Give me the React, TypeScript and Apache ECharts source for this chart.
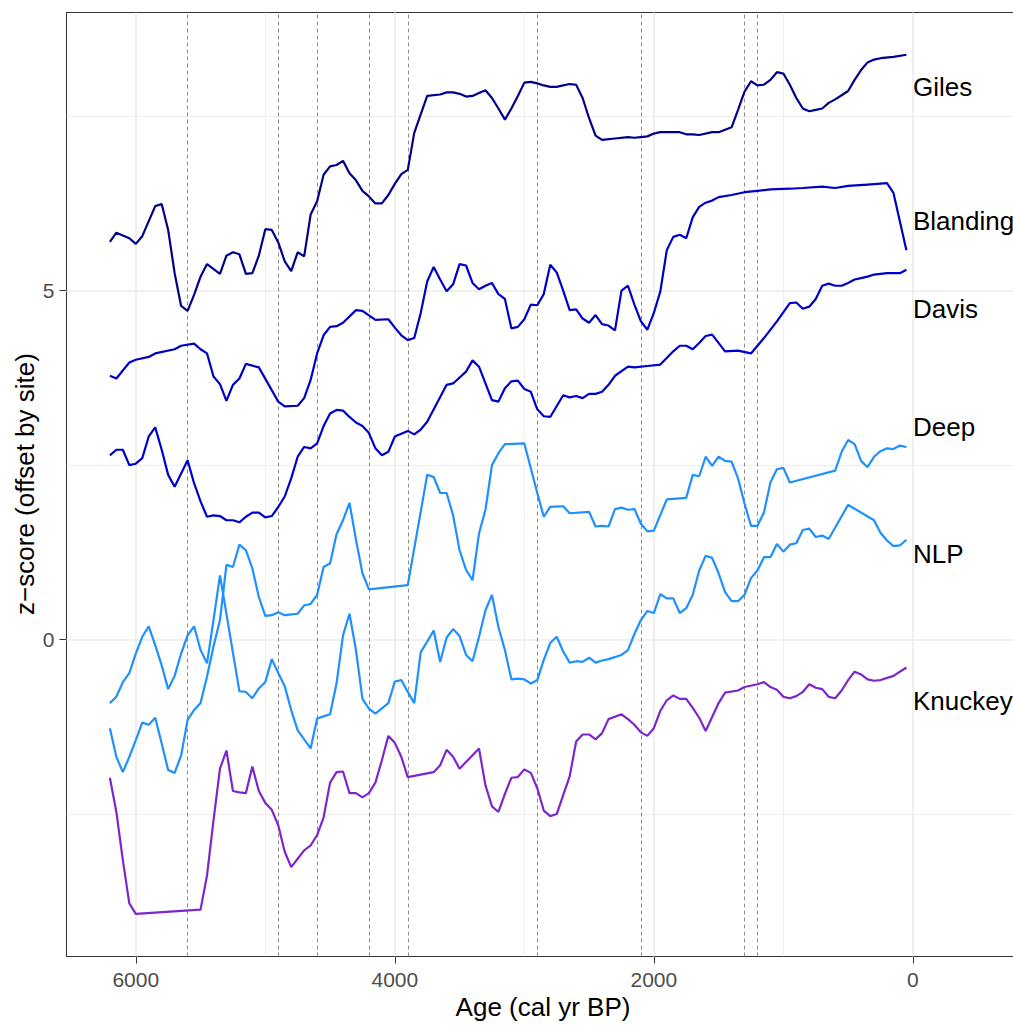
import React, { useEffect, useRef } from "react";
import * as echarts from "echarts";

const sites = ["Giles", "Blanding", "Davis", "Deep", "NLP", "Knuckey"];
const siteColors = ["#00008B", "#0000C4", "#0000CD", "#1E90FF", "#1E90FF", "#7D26CD"];
const labelZ = [7.92, 6.0, 4.73, 3.04, 1.23, -0.88];
const eventAges = [5600, 4900, 4600, 4200, 3900, 2900, 2100, 1300, 1200];
const xMajor = [6000, 4000, 2000, 0];
const xMinor = [5000, 3000, 1000];
const yMajor = [0, 5];
const yMinor = [-2.5, 2.5, 7.5];
const xLimits = [-773, 6535];
const yLimits = [-4.541, 8.985];

const giles = [
  [6200, 5.7], [6150, 5.83], [6050, 5.75], [6000, 5.67], [5950, 5.78], [5850, 6.21], [5800, 6.24],
  [5750, 5.87], [5700, 5.25], [5650, 4.78], [5600, 4.71], [5550, 4.94], [5500, 5.2], [5450, 5.38],
  [5350, 5.24], [5300, 5.5], [5250, 5.55], [5200, 5.52], [5150, 5.24], [5100, 5.25], [5050, 5.5],
  [5000, 5.88], [4950, 5.87], [4900, 5.69], [4850, 5.42], [4800, 5.28], [4750, 5.55], [4700, 5.49],
  [4650, 6.09], [4600, 6.28], [4550, 6.66], [4500, 6.78], [4450, 6.8], [4400, 6.86], [4350, 6.68],
  [4300, 6.58], [4250, 6.43], [4200, 6.35], [4150, 6.25], [4100, 6.25], [4050, 6.37], [4000, 6.53],
  [3950, 6.67], [3900, 6.73], [3850, 7.26], [3750, 7.79], [3650, 7.81], [3600, 7.84], [3550, 7.84],
  [3500, 7.82], [3450, 7.78], [3400, 7.79], [3350, 7.83], [3300, 7.87], [3250, 7.76], [3200, 7.61],
  [3150, 7.45], [3100, 7.61], [3050, 7.79], [3000, 7.98], [2950, 7.99], [2900, 7.97], [2850, 7.94],
  [2800, 7.92], [2750, 7.92], [2700, 7.94], [2650, 7.96], [2600, 7.95], [2550, 7.76], [2500, 7.47],
  [2450, 7.22], [2400, 7.16], [2300, 7.18], [2200, 7.2], [2150, 7.19], [2100, 7.2], [2050, 7.21],
  [2000, 7.25], [1950, 7.27], [1850, 7.27], [1800, 7.27], [1750, 7.24], [1700, 7.24], [1650, 7.23],
  [1550, 7.27], [1500, 7.27], [1400, 7.34], [1350, 7.59], [1300, 7.85], [1250, 8.0], [1200, 7.94],
  [1150, 7.95], [1100, 8.02], [1050, 8.13], [1000, 8.11], [950, 7.95], [900, 7.76], [850, 7.61],
  [800, 7.57], [750, 7.59], [700, 7.61], [650, 7.69], [600, 7.74], [550, 7.8], [500, 7.86],
  [450, 8.02], [400, 8.16], [350, 8.27], [300, 8.31], [250, 8.33], [150, 8.35], [50, 8.38],
];

const blanding = [
  [6200, 3.78], [6150, 3.74], [6050, 3.97], [6000, 4.01], [5900, 4.05], [5850, 4.1], [5700, 4.16],
  [5650, 4.21], [5550, 4.24], [5500, 4.16], [5450, 4.1], [5400, 3.77], [5350, 3.66], [5300, 3.42],
  [5250, 3.65], [5200, 3.74], [5150, 3.95], [5050, 3.9], [4900, 3.41], [4850, 3.34], [4750, 3.35],
  [4700, 3.46], [4650, 3.72], [4600, 4.1], [4550, 4.36], [4500, 4.48], [4450, 4.49], [4400, 4.54],
  [4300, 4.72], [4250, 4.71], [4150, 4.58], [4050, 4.59], [4000, 4.47], [3950, 4.36], [3900, 4.29],
  [3850, 4.32], [3800, 4.68], [3750, 5.13], [3700, 5.34], [3650, 5.16], [3600, 4.99], [3550, 5.09],
  [3500, 5.38], [3450, 5.36], [3400, 5.11], [3350, 5.02], [3300, 5.07], [3250, 5.11], [3200, 4.95],
  [3150, 4.88], [3100, 4.46], [3050, 4.48], [3000, 4.59], [2950, 4.8], [2900, 4.79], [2850, 4.95],
  [2800, 5.37], [2750, 5.26], [2700, 5.0], [2650, 4.72], [2600, 4.73], [2550, 4.6], [2500, 4.54],
  [2450, 4.65], [2400, 4.52], [2350, 4.5], [2300, 4.43], [2250, 5.0], [2200, 5.07], [2150, 4.8],
  [2100, 4.56], [2050, 4.44], [2000, 4.68], [1950, 4.99], [1900, 5.58], [1850, 5.77], [1800, 5.8],
  [1750, 5.75], [1700, 6.05], [1650, 6.2], [1600, 6.26], [1550, 6.29], [1500, 6.34], [1400, 6.37],
  [1300, 6.41], [1200, 6.43], [1100, 6.45], [950, 6.46], [850, 6.47], [700, 6.49], [600, 6.47],
  [500, 6.5], [350, 6.52], [200, 6.54], [150, 6.4], [50, 5.58],
];

const davis = [
  [6200, 2.64], [6150, 2.72], [6100, 2.72], [6050, 2.5], [6000, 2.52], [5950, 2.6], [5900, 2.91],
  [5850, 3.04], [5800, 2.72], [5750, 2.36], [5700, 2.19], [5600, 2.57], [5550, 2.24], [5500, 1.98],
  [5450, 1.76], [5400, 1.78], [5350, 1.77], [5300, 1.71], [5250, 1.71], [5200, 1.68], [5150, 1.76],
  [5100, 1.82], [5050, 1.82], [5000, 1.75], [4950, 1.77], [4900, 1.9], [4850, 2.05], [4800, 2.31],
  [4750, 2.62], [4700, 2.76], [4650, 2.74], [4600, 2.81], [4550, 3.06], [4500, 3.24], [4450, 3.29],
  [4400, 3.28], [4350, 3.19], [4300, 3.11], [4250, 3.06], [4200, 2.96], [4150, 2.74], [4100, 2.64],
  [4050, 2.69], [4000, 2.91], [3900, 2.99], [3850, 2.94], [3800, 3.01], [3750, 3.12], [3600, 3.65],
  [3550, 3.67], [3450, 3.84], [3400, 4.0], [3350, 3.91], [3250, 3.43], [3200, 3.41], [3150, 3.6],
  [3100, 3.7], [3050, 3.71], [3000, 3.59], [2950, 3.55], [2900, 3.3], [2850, 3.2], [2800, 3.19],
  [2700, 3.5], [2650, 3.47], [2600, 3.49], [2550, 3.46], [2500, 3.52], [2450, 3.52], [2400, 3.55],
  [2350, 3.65], [2300, 3.78], [2200, 3.91], [2150, 3.9], [2050, 3.92], [1950, 3.94], [1850, 4.13],
  [1800, 4.21], [1750, 4.21], [1700, 4.16], [1650, 4.25], [1600, 4.35], [1550, 4.37], [1450, 4.13],
  [1350, 4.14], [1250, 4.1], [1150, 4.32], [1050, 4.56], [950, 4.82], [900, 4.83], [850, 4.74],
  [800, 4.77], [750, 4.88], [700, 5.07], [650, 5.1], [600, 5.07], [550, 5.07], [500, 5.11],
  [450, 5.16], [400, 5.18], [350, 5.2], [300, 5.23], [200, 5.25], [100, 5.25], [50, 5.3],
];

const deep = [
  [6200, -1.27], [6150, -1.68], [6100, -1.9], [6050, -1.68], [6000, -1.44], [5950, -1.19], [5900, -1.22],
  [5850, -1.12], [5800, -1.49], [5750, -1.87], [5700, -1.91], [5650, -1.66], [5600, -1.15], [5550, -1.01],
  [5500, -0.91], [5450, -0.53], [5400, -0.1], [5350, 0.28], [5300, 1.07], [5250, 1.04], [5200, 1.36],
  [5150, 1.28], [5100, 1.02], [5050, 0.61], [5000, 0.34], [4950, 0.35], [4900, 0.39], [4850, 0.35],
  [4750, 0.37], [4700, 0.49], [4650, 0.51], [4600, 0.64], [4550, 1.04], [4500, 1.09], [4450, 1.51],
  [4400, 1.71], [4350, 1.96], [4300, 1.43], [4250, 0.95], [4200, 0.72], [3900, 0.78], [3750, 2.36],
  [3700, 2.33], [3650, 2.1], [3600, 2.1], [3550, 1.78], [3500, 1.28], [3450, 1.0], [3400, 0.85],
  [3350, 1.52], [3300, 1.86], [3250, 2.5], [3200, 2.67], [3150, 2.8], [3000, 2.81], [2900, 2.1],
  [2850, 1.76], [2800, 1.9], [2700, 1.91], [2650, 1.81], [2500, 1.83], [2450, 1.62], [2400, 1.63],
  [2350, 1.62], [2300, 1.87], [2250, 1.89], [2200, 1.86], [2150, 1.87], [2100, 1.66], [2050, 1.55],
  [2000, 1.56], [1900, 2.01], [1750, 2.03], [1700, 2.36], [1650, 2.34], [1600, 2.62], [1550, 2.49],
  [1500, 2.62], [1450, 2.56], [1400, 2.55], [1350, 2.31], [1300, 1.95], [1250, 1.63], [1200, 1.63],
  [1150, 1.82], [1100, 2.25], [1050, 2.44], [1000, 2.46], [950, 2.25], [600, 2.42], [550, 2.69],
  [500, 2.86], [450, 2.8], [400, 2.56], [350, 2.47], [300, 2.62], [250, 2.7], [200, 2.74],
  [150, 2.73], [100, 2.78], [50, 2.76],
];

const nlp = [
  [6200, -0.91], [6150, -0.82], [6100, -0.61], [6050, -0.48], [6000, -0.2], [5950, 0.04], [5900, 0.19],
  [5850, -0.08], [5800, -0.37], [5750, -0.71], [5700, -0.52], [5650, -0.2], [5600, 0.06], [5550, 0.19],
  [5500, -0.15], [5450, -0.34], [5400, 0.28], [5350, 0.92], [5200, -0.74], [5150, -0.75], [5100, -0.84],
  [5050, -0.7], [5000, -0.61], [4950, -0.28], [4900, -0.48], [4850, -0.67], [4800, -1.01], [4750, -1.3],
  [4700, -1.43], [4650, -1.56], [4600, -1.13], [4550, -1.1], [4500, -1.07], [4450, -0.63], [4400, 0.06],
  [4350, 0.37], [4300, -0.15], [4250, -0.85], [4200, -0.99], [4150, -1.06], [4050, -0.91], [4000, -0.6],
  [3950, -0.58], [3900, -0.75], [3850, -0.91], [3800, -0.18], [3750, -0.03], [3700, 0.13], [3650, -0.32],
  [3600, 0.03], [3550, 0.15], [3500, 0.05], [3450, -0.22], [3400, -0.31], [3350, 0.04], [3300, 0.42],
  [3250, 0.64], [3200, 0.18], [3150, -0.15], [3100, -0.57], [3050, -0.56], [3000, -0.57], [2950, -0.63],
  [2900, -0.58], [2850, -0.29], [2800, -0.05], [2750, 0.04], [2700, -0.17], [2650, -0.33], [2600, -0.31],
  [2550, -0.32], [2500, -0.26], [2450, -0.33], [2400, -0.3], [2350, -0.28], [2250, -0.22], [2200, -0.15],
  [2150, 0.08], [2100, 0.28], [2050, 0.41], [2000, 0.38], [1950, 0.65], [1900, 0.59], [1850, 0.59],
  [1800, 0.38], [1750, 0.45], [1700, 0.64], [1650, 0.99], [1600, 1.2], [1550, 1.17], [1500, 0.95],
  [1450, 0.68], [1400, 0.55], [1350, 0.55], [1300, 0.64], [1250, 0.88], [1200, 0.99], [1150, 1.18],
  [1100, 1.18], [1050, 1.37], [1000, 1.26], [950, 1.36], [900, 1.38], [850, 1.57], [800, 1.59],
  [750, 1.47], [700, 1.49], [650, 1.44], [500, 1.93], [300, 1.71], [250, 1.53], [200, 1.42],
  [150, 1.34], [100, 1.35], [50, 1.43],
];

const knuckey = [
  [6200, -1.98], [6150, -2.47], [6100, -3.16], [6050, -3.78], [6000, -3.93], [5500, -3.87], [5450, -3.38],
  [5400, -2.59], [5350, -1.85], [5300, -1.59], [5250, -2.17], [5200, -2.19], [5150, -2.2], [5100, -1.82],
  [5050, -2.17], [5000, -2.34], [4950, -2.44], [4900, -2.66], [4850, -3.04], [4800, -3.26], [4750, -3.14],
  [4700, -3.02], [4650, -2.95], [4600, -2.8], [4550, -2.55], [4500, -2.05], [4450, -1.9], [4400, -1.89],
  [4350, -2.2], [4300, -2.2], [4250, -2.26], [4200, -2.2], [4150, -2.05], [4100, -1.73], [4050, -1.38],
  [4000, -1.48], [3950, -1.68], [3900, -1.97], [3700, -1.9], [3650, -1.8], [3600, -1.58], [3550, -1.68],
  [3500, -1.85], [3350, -1.56], [3300, -2.09], [3250, -2.39], [3200, -2.47], [3150, -2.21], [3100, -1.98],
  [3050, -1.97], [3000, -1.86], [2950, -1.91], [2900, -2.13], [2850, -2.45], [2800, -2.53], [2750, -2.5],
  [2700, -2.23], [2650, -1.96], [2600, -1.46], [2550, -1.36], [2500, -1.36], [2450, -1.43], [2400, -1.34],
  [2350, -1.14], [2250, -1.07], [2200, -1.14], [2150, -1.22], [2100, -1.33], [2050, -1.38], [2000, -1.27],
  [1950, -1.02], [1900, -0.87], [1850, -0.8], [1800, -0.85], [1750, -0.85], [1700, -0.98], [1650, -1.12],
  [1600, -1.31], [1550, -1.11], [1500, -0.91], [1450, -0.76], [1350, -0.73], [1300, -0.68], [1200, -0.64],
  [1150, -0.61], [1100, -0.68], [1050, -0.72], [1000, -0.82], [950, -0.84], [900, -0.81], [850, -0.75],
  [800, -0.64], [750, -0.69], [700, -0.71], [650, -0.82], [600, -0.84], [550, -0.73], [500, -0.58],
  [450, -0.46], [400, -0.5], [350, -0.57], [300, -0.59], [250, -0.58], [150, -0.52], [50, -0.4],
];

const siteData = [giles, blanding, davis, deep, nlp, knuckey];

const FONT = "'Liberation Sans', Arial, Helvetica, sans-serif";
const GRID_MAJOR = { color: "#EBEBEB", width: 1.6, type: "solid" };
const GRID_MINOR = { color: "#EBEBEB", width: 0.8, type: "solid" };
const FRAME = { color: "#333333", width: 1 };

export default function App() {
  const ref = useRef<HTMLDivElement>(null);

  useEffect(() => {
    document.body.style.margin = "0";
    if (!ref.current) return;
    const chart = echarts.init(ref.current, null, { renderer: "svg" });

    const gridLines = [
      ...xMinor.map((v) => ({ xAxis: v, lineStyle: GRID_MINOR })),
      ...yMinor.map((v) => ({ yAxis: v, lineStyle: GRID_MINOR })),
      ...xMajor.map((v) => ({ xAxis: v, lineStyle: GRID_MAJOR })),
      ...yMajor.map((v) => ({ yAxis: v, lineStyle: GRID_MAJOR })),
    ];

    const option: any = {
      animation: false,
      backgroundColor: "#FFFFFF",
      grid: {
        left: 66.5,
        right: 0,
        top: 12.5,
        bottom: 68.5,
        show: false,
      },
      xAxis: [
        {
          type: "value",
          inverse: true,
          position: "bottom",
          min: xLimits[0],
          max: xLimits[1],
          splitLine: { show: false },
          axisLine: { show: true, onZero: false, lineStyle: FRAME },
          axisTick: { show: true, length: 7, customValues: xMajor, lineStyle: FRAME },
          axisLabel: {
            show: true,
            customValues: xMajor,
            margin: 12,
            color: "#4D4D4D",
            fontSize: 21,
            fontFamily: FONT,
            formatter: (v: number) => String(Math.round(v)),
          },
        },
        {
          type: "value",
          inverse: true,
          position: "top",
          min: xLimits[0],
          max: xLimits[1],
          splitLine: { show: false },
          axisLine: { show: true, onZero: false, lineStyle: FRAME },
          axisTick: { show: false },
          axisLabel: { show: false },
        },
      ],
      yAxis: {
        type: "value",
        min: yLimits[0],
        max: yLimits[1],
        splitLine: { show: false },
        axisLine: { show: true, onZero: false, lineStyle: FRAME },
        axisTick: { show: true, length: 7, customValues: yMajor, lineStyle: FRAME },
        axisLabel: {
          show: true,
          customValues: yMajor,
          margin: 12,
          color: "#4D4D4D",
          fontSize: 21,
          fontFamily: FONT,
          formatter: (v: number) => String(Math.round(v)),
        },
      },
      series: [
        {
          type: "line",
          data: [],
          silent: true,
          markLine: {
            silent: true,
            z: 1,
            symbol: ["none", "none"],
            label: { show: false },
            emphasis: { disabled: true },
            data: gridLines,
          },
        },
        {
          type: "line",
          data: [],
          silent: true,
          markLine: {
            silent: true,
            z: 1.5,
            symbol: ["none", "none"],
            label: { show: false },
            emphasis: { disabled: true },
            lineStyle: { color: "#7F7F7F", width: 0.9, type: [4, 3] },
            data: eventAges.map((v) => ({ xAxis: v })),
          },
        },
        ...siteData.map((d, i) => ({
          type: "line",
          name: sites[i],
          data: d,
          symbol: "none",
          showSymbol: false,
          silent: true,
          z: 3,
          lineStyle: { color: siteColors[i], width: 2.2 },
        })),
        {
          type: "scatter",
          silent: true,
          z: 4,
          symbolSize: 0.1,
          itemStyle: { color: "rgba(0,0,0,0)" },
          data: labelZ.map((y, i) => ({ name: sites[i], value: [0, y] })),
          label: {
            show: true,
            position: "right",
            distance: 0,
            formatter: "{b}",
            color: "#000000",
            opacity: 1,
            textBorderWidth: 0,
            fontSize: 26,
            fontFamily: FONT,
          },
        },
      ],
      graphic: [
        {
          type: "text",
          x: 543,
          y: 1007,
          style: {
            text: "Age (cal yr BP)",
            fill: "#000000",
            fontSize: 26,
            fontFamily: FONT,
            align: "center",
            verticalAlign: "middle",
          },
        },
        {
          type: "text",
          x: 25,
          y: 484,
          rotation: Math.PI / 2,
          style: {
            text: "z\u2212score (offset by site)",
            fill: "#000000",
            fontSize: 26,
            fontFamily: FONT,
            align: "center",
            verticalAlign: "middle",
          },
        },
      ],
    };

    chart.setOption(option);
    return () => chart.dispose();
  }, []);

  return (
    <div
      ref={ref}
      style={{ position: "absolute", left: 0, top: 0, width: 1013, height: 1025, background: "#fff" }}
    />
  );
}
